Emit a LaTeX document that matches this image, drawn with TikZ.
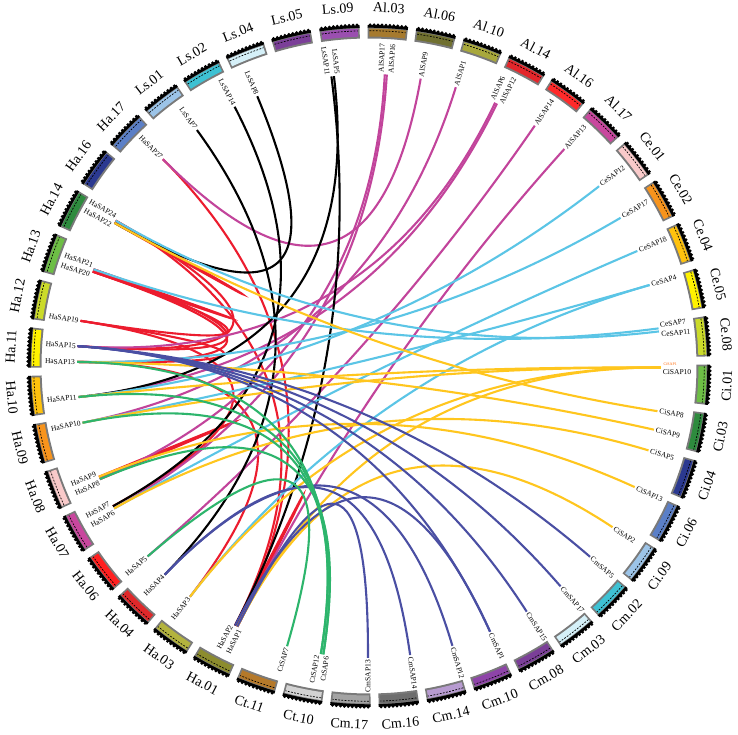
\documentclass[tikz,border=0pt]{standalone}
\usepackage{fontspec}
\setmainfont{Liberation Serif}
\usetikzlibrary{calc}
\definecolor{ls09}{HTML}{9B4FB0}\definecolor{al03}{HTML}{A67A2E}\definecolor{al06}{HTML}{707030}
\definecolor{al10}{HTML}{A8A83C}\definecolor{al14}{HTML}{E3262B}\definecolor{al16}{HTML}{FF2A2A}
\definecolor{al17}{HTML}{C9479E}\definecolor{ce01}{HTML}{F9CACA}\definecolor{ce02}{HTML}{F7941D}
\definecolor{ce04}{HTML}{FFC20E}\definecolor{ce05}{HTML}{FFF200}\definecolor{ce08}{HTML}{CBDB2A}
\definecolor{ci01}{HTML}{6DBE45}\definecolor{ci03}{HTML}{2E8B3E}\definecolor{ci04}{HTML}{2B3990}
\definecolor{ci06}{HTML}{5B7FC7}\definecolor{ci09}{HTML}{9CC4E8}\definecolor{cm02}{HTML}{3EC1D3}
\definecolor{cm03}{HTML}{D5F0F8}\definecolor{cm08}{HTML}{7B3F98}\definecolor{cm10}{HTML}{8E44A8}
\definecolor{cm14}{HTML}{B79BD0}\definecolor{cm16}{HTML}{6E6E6E}\definecolor{cm17}{HTML}{A3A3A3}
\definecolor{ct10}{HTML}{D3D3D3}\definecolor{ct11}{HTML}{B5792A}\definecolor{ha01}{HTML}{8C8C2E}
\definecolor{ha03}{HTML}{B3B33E}\definecolor{ha04}{HTML}{E0282A}\definecolor{ha06}{HTML}{FF2020}
\definecolor{ha07}{HTML}{C9479E}\definecolor{ha08}{HTML}{F9CACA}\definecolor{ha09}{HTML}{F7941D}
\definecolor{ha10}{HTML}{FFC20E}\definecolor{ha11}{HTML}{FFF200}\definecolor{ha12}{HTML}{CBDB2A}
\definecolor{ha13}{HTML}{6DBE45}\definecolor{ha14}{HTML}{2E8B3E}\definecolor{ha16}{HTML}{2B3990}
\definecolor{ha17}{HTML}{5B7FC7}\definecolor{ls01}{HTML}{9CC4E8}\definecolor{ls02}{HTML}{3EC1D3}
\definecolor{ls04}{HTML}{D5F0F8}\definecolor{ls05}{HTML}{7B3F98}
\definecolor{lkAl}{HTML}{C2449B}\definecolor{lkCe}{HTML}{5BC5E6}\definecolor{lkCi}{HTML}{FFC61E}
\definecolor{lkCm}{HTML}{4A4FA3}\definecolor{lkCt}{HTML}{2DB56C}\definecolor{lkHa}{HTML}{EC1C2E}
\definecolor{segframe}{HTML}{7A7A7A}
\tikzset{
  chrlab/.style={font=\fontsize{14}{16}\selectfont, inner sep=0pt},
  glabel/.style={font=\fontsize{7.5}{9}\selectfont, inner sep=0.8pt},
  lnk/.style={line width=2.1pt},
}
\newcommand\glab[3]{%
  \pgfmathsetmacro\gc{cos(#2)}%
  \ifdim\gc pt>0pt
    \node[glabel, anchor=west, rotate=#2] (t-#1) at (#2:293) {#3};
  \else
    \pgfmathsetmacro\gr{#2+180}%
    \node[glabel, anchor=east, rotate=\gr] (t-#1) at (#2:293) {#3};
  \fi}
\newcommand\lk[3]{\draw[lnk,#1] (#2) .. controls ($(#2)!0.667!(O)$) and ($(#3)!0.667!(O)$) .. (#3);}
\begin{document}
\begin{tikzpicture}[x=1pt,y=1pt]
\useasboundingbox (-369,-369) rectangle (369,366);
\fill[white] (-369,-369) rectangle (369,366);
\coordinate (O) at (0,0);
% chromosome segments
\foreach \nm/\col [count=\i from 0] in {Ls.09/ls09,Al.03/al03,Al.06/al06,Al.10/al10,Al.14/al14,Al.16/al16,Al.17/al17,Ce.01/ce01,Ce.02/ce02,Ce.04/ce04,Ce.05/ce05,Ce.08/ce08,Ci.01/ci01,Ci.03/ci03,Ci.04/ci04,Ci.06/ci06,Ci.09/ci09,Cm.02/cm02,Cm.03/cm03,Cm.08/cm08,Cm.10/cm10,Cm.14/cm14,Cm.16/cm16,Cm.17/cm17,Ct.10/ct10,Ct.11/ct11,Ha.01/ha01,Ha.03/ha03,Ha.04/ha04,Ha.06/ha06,Ha.07/ha07,Ha.08/ha08,Ha.09/ha09,Ha.10/ha10,Ha.11/ha11,Ha.12/ha12,Ha.13/ha13,Ha.14/ha14,Ha.16/ha16,Ha.17/ha17,Ls.01/ls01,Ls.02/ls02,Ls.04/ls04,Ls.05/ls05}{
  \pgfmathsetmacro\a{95-8.18*\i}
  \pgfmathsetmacro\aL{\a+3.4}
  \pgfmathsetmacro\aR{\a-3.4}
  \pgfmathsetmacro\bL{\a+3.1}
  \pgfmathsetmacro\bR{\a-3.1}
  \pgfmathsetmacro\rot{sin(\a)>0 ? \a-90 : \a+90}
  \fill[segframe] (\aL:327.5) arc[start angle=\aL,end angle=\aR,radius=327.5] -- (\aR:339) arc[start angle=\aR,end angle=\aL,radius=339] -- cycle;
  \fill[\col] (\bL:329.5) arc[start angle=\bL,end angle=\bR,radius=329.5] -- (\bR:337.5) arc[start angle=\bR,end angle=\bL,radius=337.5] -- cycle;
  \fill[black] (\aL:338.3) arc[start angle=\aL,end angle=\aR,radius=338.3] -- (\aR:341) arc[start angle=\aR,end angle=\aL,radius=341] -- cycle;
  \foreach \k in {0,...,9}{\fill[black] (\a-3.0+\k*0.667:341.2) circle (1.6);}
  \draw[black, line width=0.7pt, dash pattern=on 1.8pt off 1.4pt] (\bL:335.3) arc[start angle=\bL,end angle=\bR,radius=335.3];
  \node[chrlab, rotate=\rot] (c\i) at (\a:358.5) {\nm};
}
% gene link anchors
\foreach \g/\ang in {LsSAP7/126.1,LsSAP14/117.4,LsSAP8/112.5,LsSAP5/96.9,LsSAP11/97.4,
 AlSAP17/86.9,AlSAP16/86.5,AlSAP9/79.8,AlSAP1/72.7,AlSAP6/64.4,AlSAP12/64.0,AlSAP14/55.4,AlSAP13/48.0,
 CeSAP12/38.0,CeSAP17/30.5,CeSAP18/23.2,CeSAP4/16.1,CeSAP7/7.4,CeSAP11/6.8,
 CiSAP10/-0.3,CiSAP8/-8.9,CiSAP9/-12.6,CiSAP5/-16.8,CiSAP13/-24.5,CiSAP2/-33.5,
 CmSAP5/-40.8,CmSAP17/-49.0,CmSAP15/-57.3,CmSAP1/-65.5,CmSAP12/-73.4,CmSAP14/-81.9,CmSAP13/-90.2,
 CtSAP12/-99.5,CtSAP6/-99.0,CtSAP7/-106.3,
 HaSAP2/-117.3,HaSAP1/-116.8,HaSAP3/-127.8,HaSAP4/-134.4,HaSAP5/-139.3,HaSAP7/-151.3,HaSAP6/-150.8,
 HaSAP9/-157.7,HaSAP8/-157.2,HaSAP10/-168.8,HaSAP11/-173.9,HaSAP13/179.2,HaSAP15/176.1,HaSAP19/171.1,
 HaSAP21/160.65,HaSAP20/161.15,HaSAP24/150.15,HaSAP22/150.65,HaSAP27/134.9}{
  \coordinate (\g) at (\ang:292);
}
% gene labels
\glab{LsSAP7}{126.1}{LsSAP7}\glab{LsSAP14}{117.4}{LsSAP14}\glab{LsSAP8}{112.5}{LsSAP8}
\glab{LsSAP5}{96.2}{LsSAP5}\glab{LsSAP11}{98.1}{LsSAP11}
\glab{AlSAP17}{87.65}{AlSAP17}\glab{AlSAP16}{85.75}{AlSAP16}\glab{AlSAP9}{79.8}{AlSAP9}
\glab{AlSAP1}{72.7}{AlSAP1}\glab{AlSAP6}{65.15}{AlSAP6}\glab{AlSAP12}{63.25}{AlSAP12}
\glab{AlSAP14}{55.4}{AlSAP14}\glab{AlSAP13}{48.0}{AlSAP13}
\glab{CeSAP12}{38.0}{CeSAP12}\glab{CeSAP17}{30.5}{CeSAP17}\glab{CeSAP18}{23.2}{CeSAP18}
\glab{CeSAP4}{16.1}{CeSAP4}\glab{CeSAP7}{8.05}{CeSAP7}\glab{CeSAP11}{6.15}{CeSAP11}
\node[font=\fontsize{4}{5}\selectfont, text=orange!80!red, inner sep=0.5pt, anchor=west, rotate=0.4] (t-CiSAP1) at (0.4:294) {CiSAP1};
\glab{CiSAP10}{-1.1}{CiSAP10}\glab{CiSAP8}{-8.9}{CiSAP8}\glab{CiSAP9}{-12.6}{CiSAP9}
\glab{CiSAP5}{-16.8}{CiSAP5}\glab{CiSAP13}{-24.5}{CiSAP13}\glab{CiSAP2}{-33.5}{CiSAP2}
\glab{CmSAP5}{-40.8}{CmSAP5}\glab{CmSAP17}{-49.0}{CmSAP17}\glab{CmSAP15}{-57.3}{CmSAP15}
\glab{CmSAP1}{-65.5}{CmSAP1}\glab{CmSAP12}{-73.4}{CmSAP12}\glab{CmSAP14}{-81.9}{CmSAP14}
\glab{CmSAP13}{-90.2}{CmSAP13}
\glab{CtSAP12}{-100.2}{CtSAP12}\glab{CtSAP6}{-98.3}{CtSAP6}\glab{CtSAP7}{-106.3}{CtSAP7}
\glab{HaSAP2}{-118.0}{HaSAP2}\glab{HaSAP1}{-116.1}{HaSAP1}\glab{HaSAP3}{-127.8}{HaSAP3}
\glab{HaSAP4}{-134.4}{HaSAP4}\glab{HaSAP5}{-139.3}{HaSAP5}
\glab{HaSAP7}{-152.0}{HaSAP7}\glab{HaSAP6}{-150.1}{HaSAP6}
\glab{HaSAP9}{-158.4}{HaSAP9}\glab{HaSAP8}{-156.5}{HaSAP8}
\glab{HaSAP10}{-168.8}{HaSAP10}\glab{HaSAP11}{-173.9}{HaSAP11}
\glab{HaSAP13}{179.2}{HaSAP13}\glab{HaSAP15}{176.1}{HaSAP15}\glab{HaSAP19}{171.1}{HaSAP19}
\glab{HaSAP21}{159.95}{HaSAP21}\glab{HaSAP20}{161.85}{HaSAP20}
\glab{HaSAP24}{149.45}{HaSAP24}\glab{HaSAP22}{151.35}{HaSAP22}
\glab{HaSAP27}{134.9}{HaSAP27}
% links
\lk{lkHa}{HaSAP24}{HaSAP22}
\lk{lkHa}{HaSAP21}{HaSAP20}
\lk{lkHa}{HaSAP20}{HaSAP13}
\lk{lkHa}{HaSAP21}{HaSAP15}
\lk{lkHa}{HaSAP24}{HaSAP15}
\lk{lkHa}{HaSAP19}{HaSAP13}
\lk{lkHa}{HaSAP20}{HaSAP19}
\lk{lkHa}{HaSAP9}{HaSAP8}
\lk{lkHa}{HaSAP7}{HaSAP19}
\lk{lkHa}{HaSAP2}{HaSAP1}
\lk{lkHa}{HaSAP27}{HaSAP1}
\lk{lkHa}{HaSAP24}{HaSAP2}
\lk{lkHa}{HaSAP13}{HaSAP3}
\lk{lkAl}{AlSAP9}{HaSAP27}
\lk{lkAl}{AlSAP17}{HaSAP8}
\lk{lkAl}{AlSAP16}{HaSAP6}
\lk{lkAl}{AlSAP1}{HaSAP10}
\lk{lkAl}{AlSAP6}{HaSAP15}
\lk{lkAl}{AlSAP12}{HaSAP11}
\lk{lkAl}{AlSAP14}{HaSAP5}
\lk{lkAl}{AlSAP13}{HaSAP1}
\lk{black}{LsSAP8}{HaSAP22}
\lk{black}{LsSAP7}{HaSAP4}
\lk{black}{LsSAP14}{HaSAP7}
\lk{black}{LsSAP5}{HaSAP11}
\lk{black}{LsSAP11}{HaSAP2}
\lk{lkCe}{CeSAP7}{HaSAP21}
\lk{lkCe}{CeSAP11}{HaSAP24}
\lk{lkCe}{CeSAP12}{HaSAP11}
\lk{lkCe}{CeSAP17}{HaSAP13}
\lk{lkCe}{CeSAP18}{HaSAP6}
\lk{lkCe}{CeSAP4}{HaSAP10}
\lk{lkCe}{CeSAP4}{HaSAP3}
\lk{lkCi}{CiSAP8}{HaSAP22}
\lk{lkCi}{CiSAP10}{HaSAP11}
\lk{lkCi}{CiSAP10}{HaSAP10}
\lk{lkCi}{CiSAP10}{HaSAP3}
\lk{lkCi}{CiSAP10}{HaSAP1}
\lk{lkCi}{CiSAP9}{HaSAP13}
\lk{lkCi}{CiSAP5}{HaSAP6}
\lk{lkCi}{CiSAP13}{HaSAP9}
\lk{lkCi}{CiSAP2}{HaSAP1}
\lk{lkCm}{CmSAP5}{HaSAP15}
\lk{lkCm}{CmSAP17}{HaSAP15}
\lk{lkCm}{CmSAP15}{HaSAP15}
\lk{lkCm}{CmSAP1}{HaSAP15}
\lk{lkCm}{CmSAP12}{HaSAP4}
\lk{lkCm}{CmSAP14}{HaSAP4}
\lk{lkCm}{CmSAP13}{HaSAP1}
\lk{lkCm}{CmSAP1}{HaSAP2}
\lk{lkCt}{CtSAP12}{HaSAP13}
\lk{lkCt}{CtSAP6}{HaSAP11}
\lk{lkCt}{CtSAP12}{HaSAP10}
\lk{lkCt}{CtSAP7}{HaSAP5}
\lk{lkCt}{CtSAP6}{HaSAP8}
\end{tikzpicture}
\end{document}
